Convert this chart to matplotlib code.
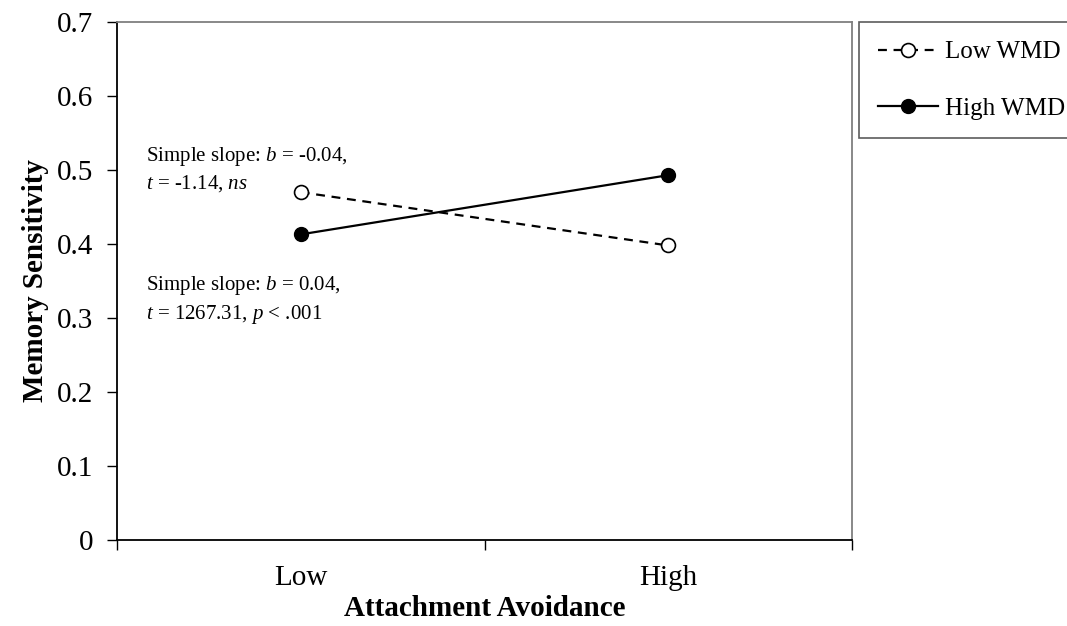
import matplotlib.pyplot as plt

# Data
categories = ['Low', 'High']
low_wmd = [0.470, 0.398]
high_wmd = [0.413, 0.493]
y_ticks = [0, 0.1, 0.2, 0.3, 0.4, 0.5, 0.6, 0.7]
y_tick_labels = ['0', '0.1', '0.2', '0.3', '0.4', '0.5', '0.6', '0.7']

plt.rcParams['font.family'] = 'Liberation Serif'
plt.rcParams['mathtext.fontset'] = 'custom'
plt.rcParams['mathtext.rm'] = 'Liberation Serif'
plt.rcParams['mathtext.it'] = 'Liberation Serif:italic'

fig = plt.figure(figsize=(10.67, 6.26), dpi=100)
ax = fig.add_axes([117 / 1067, 1 - 540 / 626, (852 - 117) / 1067, (540 - 22) / 626])

x = list(range(len(categories)))
ax.plot(x, low_wmd, color='black', linestyle=(0, (4, 3)), linewidth=1.6,
        marker='o', markersize=10, markerfacecolor='white', markeredgecolor='black',
        markeredgewidth=1.2, label='Low WMD')
ax.plot(x, high_wmd, color='black', linestyle='-', linewidth=1.6,
        marker='o', markersize=10, markerfacecolor='black', markeredgecolor='black',
        label='High WMD')

ax.set_xlim(-0.5, len(categories) - 0.5)
ax.set_ylim(0, 0.7)
ax.set_yticks(y_ticks)
ax.set_yticklabels(y_tick_labels, fontsize=21)

# category boundaries as major ticks, labels centred on minor ticks
ax.set_xticks([i - 0.5 for i in range(len(categories) + 1)])
ax.set_xticklabels([])
ax.set_xticks(x, minor=True)
ax.set_xticklabels(categories, minor=True, fontsize=21)
ax.tick_params(axis='x', which='minor', length=0, pad=18)
ax.tick_params(axis='x', which='major', length=7, width=1, direction='out')
ax.tick_params(axis='y', length=7, width=1, direction='out', pad=10)

for side in ['left', 'bottom']:
    ax.spines[side].set_color('black')
    ax.spines[side].set_linewidth(1.3)
for side in ['top', 'right']:
    ax.spines[side].set_color('#7f7f7f')
    ax.spines[side].set_linewidth(1.3)

ax.set_xlabel('Attachment Avoidance', fontsize=21, fontweight='bold', labelpad=3)
ax.set_ylabel('Memory Sensitivity', fontsize=21, fontweight='bold', labelpad=6)

# simple slope annotations
ax.text(-0.42, 0.501, 'Simple slope: $b$ = -0.04,\n$t$ = -1.14, $ns$', fontsize=15,
        va='center', ha='left', linespacing=1.35)
ax.text(-0.42, 0.324, 'Simple slope: $b$ = 0.04,\n$t$ = 1267.31, $p$ < .001', fontsize=15,
        va='center', ha='left', linespacing=1.35)

leg = fig.legend(loc='upper left', bbox_to_anchor=(859 / 1067, 1 - 22 / 626),
                 fontsize=18, frameon=True, fancybox=False, handlelength=2.4,
                 handletextpad=0.3, labelspacing=1.35, borderpad=0.75, borderaxespad=0)
leg.get_frame().set_edgecolor('#333333')
leg.get_frame().set_linewidth(1.2)

fig.savefig('out.png', dpi=100)
